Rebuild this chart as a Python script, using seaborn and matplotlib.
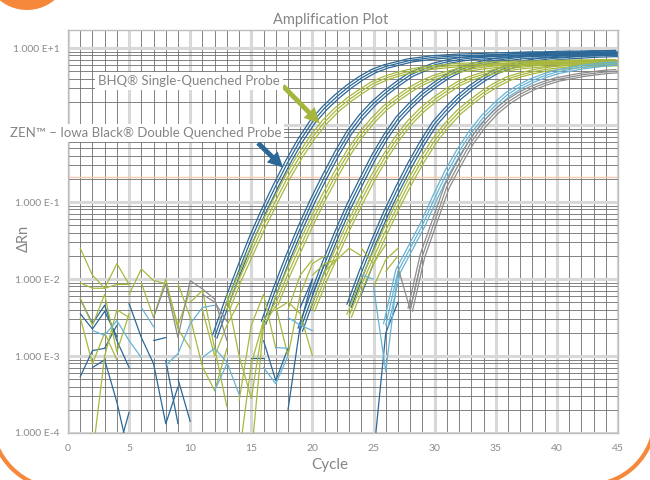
import numpy as np
import pandas as pd
import matplotlib
matplotlib.use("Agg")
import matplotlib.pyplot as plt
import seaborn as sns
from matplotlib.ticker import MultipleLocator, LogLocator, NullFormatter
from matplotlib.patches import Circle, Arc

# log10(delta Rn) read per cycle; (first cycle, values)
zen_1_start, zen_1 = 12, [-2.75, -2.30, -1.88, -1.48, -1.12, -0.79, -0.48, -0.20, 0.04, 0.22,
                          0.37, 0.50, 0.61, 0.70, 0.76, 0.80, 0.84, 0.86, 0.88, 0.89, 0.90,
                          0.905, 0.91, 0.915, 0.92, 0.925, 0.93, 0.93, 0.935, 0.94, 0.94,
                          0.945, 0.945, 0.95]
bhq_1_start, bhq_1 = 13, [-2.40, -2.00, -1.65, -1.30, -0.98, -0.67, -0.40, -0.16, 0.04, 0.20,
                          0.33, 0.44, 0.54, 0.61, 0.66, 0.70, 0.73, 0.75, 0.765, 0.78, 0.785,
                          0.79, 0.80, 0.805, 0.81, 0.81, 0.815, 0.82, 0.82, 0.825, 0.825,
                          0.83, 0.83]
zen_2_start, zen_2 = 16, [-2.57, -2.13, -1.72, -1.34, -0.99, -0.67, -0.37, -0.10, 0.11, 0.28,
                          0.42, 0.54, 0.65, 0.72, 0.78, 0.82, 0.85, 0.87, 0.88, 0.89, 0.90,
                          0.91, 0.915, 0.92, 0.925, 0.93, 0.93, 0.935, 0.94, 0.94]
bhq_2_start, bhq_2 = 17, [-2.32, -1.93, -1.58, -1.24, -0.92, -0.62, -0.35, -0.12, 0.07, 0.23,
                          0.35, 0.46, 0.55, 0.62, 0.67, 0.71, 0.73, 0.75, 0.77, 0.78, 0.79,
                          0.80, 0.805, 0.81, 0.815, 0.82, 0.82, 0.825, 0.83]
zen_3_start, zen_3 = 19, [-2.66, -2.22, -1.80, -1.41, -1.05, -0.73, -0.42, -0.15, 0.08, 0.25,
                          0.40, 0.52, 0.63, 0.71, 0.77, 0.81, 0.84, 0.86, 0.88, 0.89, 0.895,
                          0.90, 0.91, 0.915, 0.92, 0.925, 0.93]
bhq_3_start, bhq_3 = 20, [-2.40, -2.00, -1.65, -1.30, -0.98, -0.67, -0.40, -0.16, 0.04, 0.20,
                          0.33, 0.44, 0.54, 0.61, 0.66, 0.70, 0.73, 0.75, 0.765, 0.78, 0.79,
                          0.795, 0.80, 0.805, 0.81, 0.81]
zen_4_start, zen_4 = 23, [-2.35, -1.92, -1.52, -1.15, -0.82, -0.51, -0.23, 0.02, 0.20, 0.36,
                          0.49, 0.60, 0.69, 0.75, 0.80, 0.83, 0.85, 0.87, 0.88, 0.89, 0.90,
                          0.905, 0.91]
bhq_4_start, bhq_4 = 23, [-2.48, -2.08, -1.72, -1.37, -1.04, -0.73, -0.45, -0.20, 0.00, 0.17,
                          0.30, 0.42, 0.52, 0.60, 0.65, 0.69, 0.72, 0.74, 0.755, 0.77, 0.78,
                          0.785, 0.79]
light_start, light = 26, [-2.60, -1.90, -1.60, -1.30, -0.95, -0.62, -0.34, -0.10, 0.10, 0.26,
                          0.40, 0.50, 0.58, 0.64, 0.69, 0.72, 0.75, 0.77, 0.79, 0.80]
grey_start, grey = 28, [-2.40, -1.70, -1.25, -0.80, -0.50, -0.22, 0.00, 0.17, 0.30, 0.40,
                        0.48, 0.54, 0.59, 0.62, 0.65, 0.67, 0.69, 0.70]

# the three replicate wells of each dilution
rep_shift = [-0.18, 0.0, 0.18]
rep_lift = [0.02, 0.0, -0.02]

# baseline noise pieces (first cycle, log10 values); negative dRn is not drawn
noise_bhq = [(1, [-1.6, -1.95, -2.12, -1.8, -2.07]), (1, [-2.05, -2.12, -2.12, -2.07, -2.07]),
             (1, [-2.25, -2.6, -2.2, -2.95, -2.45]), (1, [-2.5, -3.1, -2.7, -3.05]),
             (2, [-4.3, -3.0, -2.4, -2.5]), (5, [-2.2, -1.87, -2.02, -2.06, -2.6, -2.15]),
             (6, [-2.05, -2.5, -2.0, -2.65, -2.9]), (9, [-2.06, -2.5, -3.14, -3.45, -2.9]),
             (10, [-2.3, -2.15, -2.9, -3.66]), (11, [-2.4, -3.0, -2.6, -2.3]),
             (13, [-2.2, -3.0, -3.55, -2.55]), (14, [-3.58, -2.6, -2.2, -2.9]),
             (14, [-4.3, -3.1, -2.54, -2.3]), (15, [-4.3, -2.6, -2.35, -3.0, -2.2]),
             (17, [-2.4, -2.3, -2.45, -3.0]), (18, [-2.4, -1.95, -1.75]),
             (19, [-2.2, -1.8, -1.7]), (20, [-1.95, -1.8, -1.75]), (21, [-1.9, -1.75, -1.6, -1.7]),
             (24, [-1.6, -1.8, -1.55]), (25, [-2.1, -1.75, -1.6]), (26, [-1.9, -1.7])]
noise_zen = [(1, [-3.27, -2.93, -2.9, -2.6]), (1, [-2.26, -2.58, -2.34, -2.8, -3.15]),
             (1, [-2.45, -2.65, -2.42, -2.75]), (2, [-3.15, -3.05, -3.6, -4.3]),
             (4, [-4.3, -3.73]), (5, [-2.32, -2.76, -3.1, -3.88, -3.4]), (7, [-2.8, -2.76]),
             (8, [-3.06, -3.88]), (9, [-3.3, -3.85]), (16, [-2.8, -3.32, -2.9]),
             (15, [-3.02, -3.02]), (18, [-3.7, -2.6, -2.0]), (19, [-2.37, -2.0]),
             (25, [-4.3, -2.7, -2.3]), (20, [-2.2, -1.8]), (24, [-2.2, -1.8])]
noise_light = [(2, [-2.67, -2.73, -2.54, -2.8, -3.02]), (6, [-2.37, -2.62]),
               (8, [-3.12, -2.97, -2.58, -2.37, -2.34]), (11, [-3.02, -2.9, -3.08, -3.5]),
               (12, [-3.45, -3.1]), (16, [-3.15, -3.36, -3.0]), (17, [-2.89, -2.9]),
               (18, [-2.5, -2.6, -2.67]), (24, [-1.95, -2.0]), (25, [-2.1, -3.2, -1.9])]
noise_grey = [(7, [-2.5, -2.06, -2.76, -2.02, -2.13, -2.26, -2.8]), (11, [-2.2, -2.3, -2.55]),
              (27, [-1.85, -2.4, -1.7])]

threshold = 0.21
yticks = [1e-4, 1e-3, 1e-2, 1e-1, 1e0, 1e1]
ylabels = ["1.000 E-4", "1.000 E-3", "1.000 E-2", "1.000 E-1", "", "1.000 E+1"]

colors = {"zen": "#2b6898", "bhq": "#a8b83e", "light": "#67b3d5", "grey": "#8c8c8c"}

rows = []
unit = 0


def add(kind, start, vals, dx=0.0, dy=0.0):
    global unit
    for i, v in enumerate(vals):
        rows.append((unit, kind, start + i + dx, 10 ** (v + dy)))
    unit += 1


for kind, start, vals in [("zen", zen_1_start, zen_1), ("bhq", bhq_1_start, bhq_1),
                          ("zen", zen_2_start, zen_2), ("bhq", bhq_2_start, bhq_2),
                          ("zen", zen_3_start, zen_3), ("bhq", bhq_3_start, bhq_3),
                          ("zen", zen_4_start, zen_4), ("bhq", bhq_4_start, bhq_4),
                          ("light", light_start, light), ("grey", grey_start, grey)]:
    for dx, dy in zip(rep_shift, rep_lift):
        add(kind, start, vals, dx, dy)

for kind, pieces in [("bhq", noise_bhq), ("zen", noise_zen), ("light", noise_light),
                     ("grey", noise_grey)]:
    for start, vals in pieces:
        add(kind, start, vals)

df = pd.DataFrame(rows, columns=["unit", "kind", "cycle", "drn"])

sns.set_theme(style="white")
plt.rcParams["font.family"] = ["Lato", "DejaVu Sans"]

fig = plt.figure(figsize=(6.5, 4.8), dpi=100)

# orange page decoration behind everything
bg = fig.add_axes([0, 0, 1, 1], zorder=-5)
bg.set_xlim(0, 650)
bg.set_ylim(480, 0)
bg.axis("off")
bg.add_patch(Circle((27, -33), 43, color="#f5883a", lw=0))
bg.add_patch(Arc((62, 418), 142, 142, theta1=90, theta2=180, color="#f5883a", lw=3))
bg.add_patch(Arc((588, 418), 134, 134, theta1=0, theta2=90, color="#f5883a", lw=3))

ax = fig.add_axes([68 / 650, 47 / 480, 550 / 650, 403 / 480])
ax.set_yscale("log")
sns.lineplot(data=df, x="cycle", y="drn", hue="kind", units="unit", estimator=None,
             palette=colors, legend=False, linewidth=0.9, sort=False, ax=ax)
ax.axhline(threshold, color="#f8c9ad", lw=1.0, zorder=1.5)

ax.set_xlim(0, 45)
ax.set_ylim(1e-4, 10 ** 1.234)
ax.xaxis.set_major_locator(MultipleLocator(5))
ax.xaxis.set_minor_locator(MultipleLocator(1))
ax.set_yticks(yticks)
ax.set_yticklabels(ylabels)
ax.yaxis.set_minor_locator(LogLocator(10, subs=np.arange(2, 10), numticks=20))
ax.yaxis.set_minor_formatter(NullFormatter())
ax.set_axisbelow(True)
ax.grid(which="major", color="#d8d8d8", lw=2.2)
ax.grid(which="minor", color="#6e6e6e", lw=0.6)
ax.tick_params(which="both", direction="out", length=4, width=0.6, color="#8a8a8a",
               labelcolor="#8a8a8a", labelsize=7.5, pad=2)
ax.tick_params(axis="x", pad=4)
for s in ax.spines.values():
    s.set_color("#bdbdbd")
    s.set_linewidth(1)
ax.set_xlabel("")
ax.set_ylabel("")

txt = "#858585"
fig.text(331 / 650, 1 - 20 / 480, "Amplification Plot", ha="center", va="center",
         fontsize=10.5, color=txt)
fig.text(330 / 650, 1 - 465 / 480, "Cycle", ha="center", va="center", fontsize=11, color=txt)
fig.text(24 / 650, 1 - 238 / 480, "ΔRn", ha="center", va="center", rotation=90,
         fontsize=10.5, color=txt)

box = dict(fc="white", ec="none", pad=2)
fig.text(98 / 650, 1 - 81 / 480, "BHQ® Single-Quenched Probe", ha="left", va="center",
         fontsize=9.5, color=txt, bbox=box)
fig.text(10 / 650, 1 - 133 / 480, "ZEN™ – Iowa Black® Double Quenched Probe", ha="left",
         va="center", fontsize=9.5, color=txt, bbox=box)

ax.annotate("", xy=(20.6, 1.05), xytext=(283, 480 - 86), textcoords="figure pixels",
            annotation_clip=False,
            arrowprops=dict(arrowstyle="simple,head_length=1.0,head_width=1.0,tail_width=0.32",
                            fc="#a6b53c", ec="none", mutation_scale=11, shrinkA=0, shrinkB=0))
ax.annotate("", xy=(17.6, 0.28), xytext=(258, 480 - 143), textcoords="figure pixels",
            annotation_clip=False,
            arrowprops=dict(arrowstyle="simple,head_length=1.0,head_width=1.0,tail_width=0.32",
                            fc="#2b6898", ec="none", mutation_scale=11, shrinkA=0, shrinkB=0))

fig.savefig("out.png", dpi=100)
